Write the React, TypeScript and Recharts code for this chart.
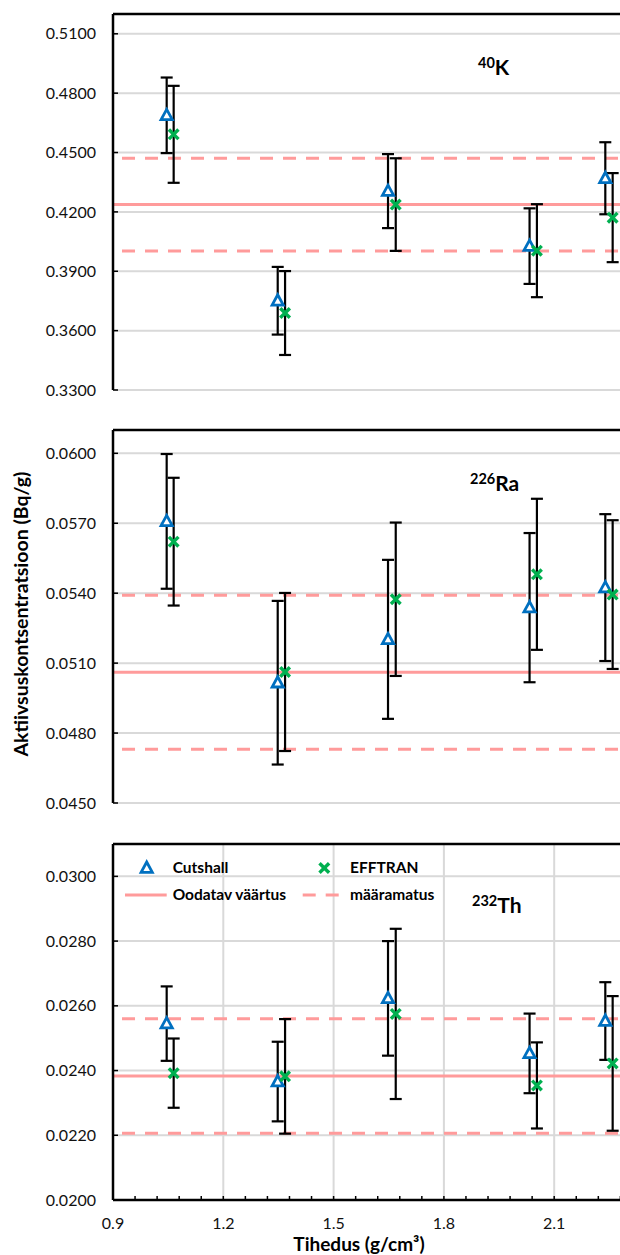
import React from 'react';
import { ScatterChart, Scatter, XAxis, YAxis, CartesianGrid, ErrorBar, ReferenceLine } from 'recharts';

// density (g/cm3) of the samples
const densityCutshall = [1.046, 1.348, 1.648, 2.033, 2.239];
const densityEfftran = [1.065, 1.368, 1.669, 2.053, 2.259];

const xTicks = [0.9, 1.2, 1.5, 1.8, 2.1, 2.4];
const xLabelled = [0.9, 1.2, 1.5, 1.8, 2.1];
const xMinorTicks = [0.9, 0.96, 1.02, 1.08, 1.14, 1.2, 1.26, 1.32, 1.38, 1.44, 1.5, 1.56, 1.62, 1.68, 1.74, 1.8, 1.86, 1.92, 1.98, 2.04, 2.1, 2.16, 2.22, 2.28, 2.34, 2.4];

// 40K
const kCutshall = [0.4688, 0.3751, 0.4305, 0.4027, 0.437];
const kCutshallErr = [0.0191, 0.0171, 0.0187, 0.0191, 0.0182];
const kEfftran = [0.4592, 0.3689, 0.4237, 0.4004, 0.4171];
const kEfftranErr = [0.0245, 0.0212, 0.0234, 0.0235, 0.0225];
const kExpected = 0.4237;
const kUncertainty = 0.0234;
const kTicks = [0.33, 0.36, 0.39, 0.42, 0.45, 0.48, 0.51];
const kDomain = [0.33, 0.52];

// 226Ra
const raCutshall = [0.05708, 0.05016, 0.05202, 0.05338, 0.05424];
const raCutshallErr = [0.00289, 0.00351, 0.00341, 0.0032, 0.00315];
const raEfftran = [0.05621, 0.05062, 0.05374, 0.05481, 0.05394];
const raEfftranErr = [0.00274, 0.00339, 0.00329, 0.00324, 0.00319];
const raExpected = 0.05061;
const raUncertainty = 0.0033;
const raTicks = [0.045, 0.048, 0.051, 0.054, 0.057, 0.06];
const raDomain = [0.045, 0.061];

// 232Th
const thCutshall = [0.02545, 0.02366, 0.02623, 0.02453, 0.02553];
const thCutshallErr = [0.00115, 0.00123, 0.00177, 0.00123, 0.0012];
const thEfftran = [0.02392, 0.02382, 0.02575, 0.02354, 0.02422];
const thEfftranErr = [0.00107, 0.00177, 0.00263, 0.00133, 0.00208];
const thExpected = 0.02383;
const thUncertainty = 0.00177;
const thTicks = [0.02, 0.022, 0.024, 0.026, 0.028, 0.03];
const thDomain = [0.02, 0.031];

const FONT = "Lato, 'Open Sans', sans-serif";
const BLUE = '#0070C0';
const GREEN = '#00B050';
const PINK = '#FF9B9B';
const GRID = '#d9d9d9';

const TriangleShape = (props: any) => {
  const { cx, cy } = props;
  if (cx == null || cy == null) return null;
  return (
    <path
      d={`M${cx},${cy - 6} L${cx + 5.6},${cy + 4.3} L${cx - 5.6},${cy + 4.3} Z`}
      fill="#fff"
      stroke={BLUE}
      strokeWidth={2.8}
      strokeLinejoin="miter"
    />
  );
};

const CrossShape = (props: any) => {
  const { cx, cy } = props;
  if (cx == null || cy == null) return null;
  const s = 4.8;
  return (
    <g stroke={GREEN} strokeWidth={3.4}>
      <line x1={cx - s} y1={cy - s} x2={cx + s} y2={cy + s} />
      <line x1={cx - s} y1={cy + s} x2={cx + s} y2={cy - s} />
    </g>
  );
};

const isLabelled = (v: number) => xLabelled.some((t) => Math.abs(t - v) < 1e-6);

type PanelProps = {
  top: number;
  height: number;
  bottomAxis: boolean;
  domain: number[];
  ticks: number[];
  cut: number[];
  cutErr: number[];
  eff: number[];
  effErr: number[];
  expected: number;
  unc: number;
};

function Panel(p: PanelProps) {
  const cutData = densityCutshall.map((x, i) => ({ x, y: p.cut[i], e: p.cutErr[i] }));
  const effData = densityEfftran.map((x, i) => ({ x, y: p.eff[i], e: p.effErr[i] }));
  const dashStart = 0.9245;
  return (
    <div style={{ position: 'absolute', left: 0, top: p.top }}>
      <ScatterChart
        width={680}
        height={p.height}
        margin={{ top: 10, right: 15.5, bottom: p.bottomAxis ? 0 : 12, left: 0 }}
      >
        <CartesianGrid stroke={GRID} strokeWidth={2} verticalValues={xTicks} horizontalValues={p.ticks} />
        <XAxis
          type="number"
          dataKey="x"
          domain={[0.9, 2.4]}
          ticks={p.bottomAxis ? xMinorTicks : xTicks}
          interval={0}
          height={p.bottomAxis ? 40 : 0}
          tick={p.bottomAxis ? { fill: '#111', fontSize: 16, fontFamily: FONT } : false}
          tickFormatter={(v: number) => (isLabelled(v) ? v.toFixed(1) : '')}
          tickSize={-4}
          tickMargin={22}
          tickLine={p.bottomAxis ? { stroke: '#000', strokeWidth: 1.5 } : false}
          axisLine={{ stroke: '#000', strokeWidth: 2.5 }}
          allowDataOverflow
        />
        <YAxis
          type="number"
          dataKey="y"
          domain={p.domain}
          ticks={p.ticks}
          interval={0}
          width={113}
          tickSize={-5}
          tickMargin={22}
          tick={{ fill: '#111', fontSize: 16, fontFamily: FONT }}
          tickFormatter={(v: number) => v.toFixed(4)}
          tickLine={{ stroke: '#000', strokeWidth: 1.5 }}
          axisLine={{ stroke: '#000', strokeWidth: 2.5 }}
          allowDataOverflow
        />
        <ReferenceLine y={p.domain[1]} stroke="#000" strokeWidth={2.5} />
        <ReferenceLine x={2.4} stroke="#000" strokeWidth={2.5} />
        <ReferenceLine y={p.expected} stroke={PINK} strokeWidth={3} />
        <ReferenceLine
          segment={[{ x: dashStart, y: p.expected + p.unc }, { x: 2.4, y: p.expected + p.unc }]}
          stroke={PINK}
          strokeWidth={3}
          strokeDasharray="13 10"
        />
        <ReferenceLine
          segment={[{ x: dashStart, y: p.expected - p.unc }, { x: 2.4, y: p.expected - p.unc }]}
          stroke={PINK}
          strokeWidth={3}
          strokeDasharray="13 10"
        />
        <Scatter data={cutData} shape={TriangleShape} isAnimationActive={false}>
          <ErrorBar dataKey="e" direction="y" width={6} stroke="#000" strokeWidth={2.2} />
        </Scatter>
        <Scatter data={effData} shape={CrossShape} isAnimationActive={false}>
          <ErrorBar dataKey="e" direction="y" width={6} stroke="#000" strokeWidth={2.2} />
        </Scatter>
      </ScatterChart>
    </div>
  );
}

export default function App() {
  return (
    <div
      style={{
        position: 'absolute',
        left: 0,
        top: 0,
        width: 620,
        height: 1255,
        overflow: 'hidden',
        background: '#fff',
        fontFamily: FONT,
      }}
    >
      <Panel
        top={4}
        height={398}
        bottomAxis={false}
        domain={kDomain}
        ticks={kTicks}
        cut={kCutshall}
        cutErr={kCutshallErr}
        eff={kEfftran}
        effErr={kEfftranErr}
        expected={kExpected}
        unc={kUncertainty}
      />
      <Panel
        top={420}
        height={395}
        bottomAxis={false}
        domain={raDomain}
        ticks={raTicks}
        cut={raCutshall}
        cutErr={raCutshallErr}
        eff={raEfftran}
        effErr={raEfftranErr}
        expected={raExpected}
        unc={raUncertainty}
      />
      <Panel
        top={834}
        height={406}
        bottomAxis={true}
        domain={thDomain}
        ticks={thTicks}
        cut={thCutshall}
        cutErr={thCutshallErr}
        eff={thEfftran}
        effErr={thEfftranErr}
        expected={thExpected}
        unc={thUncertainty}
      />
      <svg
        width={620}
        height={1255}
        style={{ position: 'absolute', left: 0, top: 0, pointerEvents: 'none' }}
        fontFamily={FONT}
      >
        <text
          transform="translate(20,614) rotate(-90)"
          textAnchor="middle"
          dominantBaseline="central"
          fontSize={19.5}
          fontWeight="bold"
          fill="#000"
        >
          Aktiivsuskontsentratsioon (Bq/g)
        </text>
        <text x={359} y={1251} textAnchor="middle" fontSize={19} fontWeight="bold" fill="#000">
          Tihedus (g/cm³)
        </text>

        <text x={478} y={75} fontWeight="bold" fill="#000">
          <tspan fontSize={14.5} dy={-7}>40</tspan>
          <tspan fontSize={21} dy={7}>K</tspan>
        </text>
        <text x={470} y={491} fontWeight="bold" fill="#000">
          <tspan fontSize={14.5} dy={-7}>226</tspan>
          <tspan fontSize={21} dy={7}>Ra</tspan>
        </text>
        <text x={472} y={913} fontWeight="bold" fill="#000">
          <tspan fontSize={14.5} dy={-7}>232</tspan>
          <tspan fontSize={21} dy={7}>Th</tspan>
        </text>

        {/* legend */}
        <path d="M146.7,862 L152.3,872.3 L141.1,872.3 Z" fill="#fff" stroke={BLUE} strokeWidth={2.8} />
        <text x={172.7} y={873} fontSize={15.5} fontWeight="bold" fill="#000">Cutshall</text>
        <g stroke={GREEN} strokeWidth={3.4}>
          <line x1={319.5} y1={863.2} x2={329.1} y2={872.8} />
          <line x1={319.5} y1={872.8} x2={329.1} y2={863.2} />
        </g>
        <text x={350} y={873} fontSize={15.5} fontWeight="bold" fill="#000">EFFTRAN</text>
        <line x1={125} y1={895} x2={166.7} y2={895} stroke={PINK} strokeWidth={3} />
        <text x={172.7} y={900} fontSize={15.5} fontWeight="bold" fill="#000">Oodatav väärtus</text>
        <line x1={302.7} y1={895} x2={339} y2={895} stroke={PINK} strokeWidth={3} strokeDasharray="13 10" />
        <text x={350} y={900} fontSize={15.5} fontWeight="bold" fill="#000">määramatus</text>
      </svg>
    </div>
  );
}
